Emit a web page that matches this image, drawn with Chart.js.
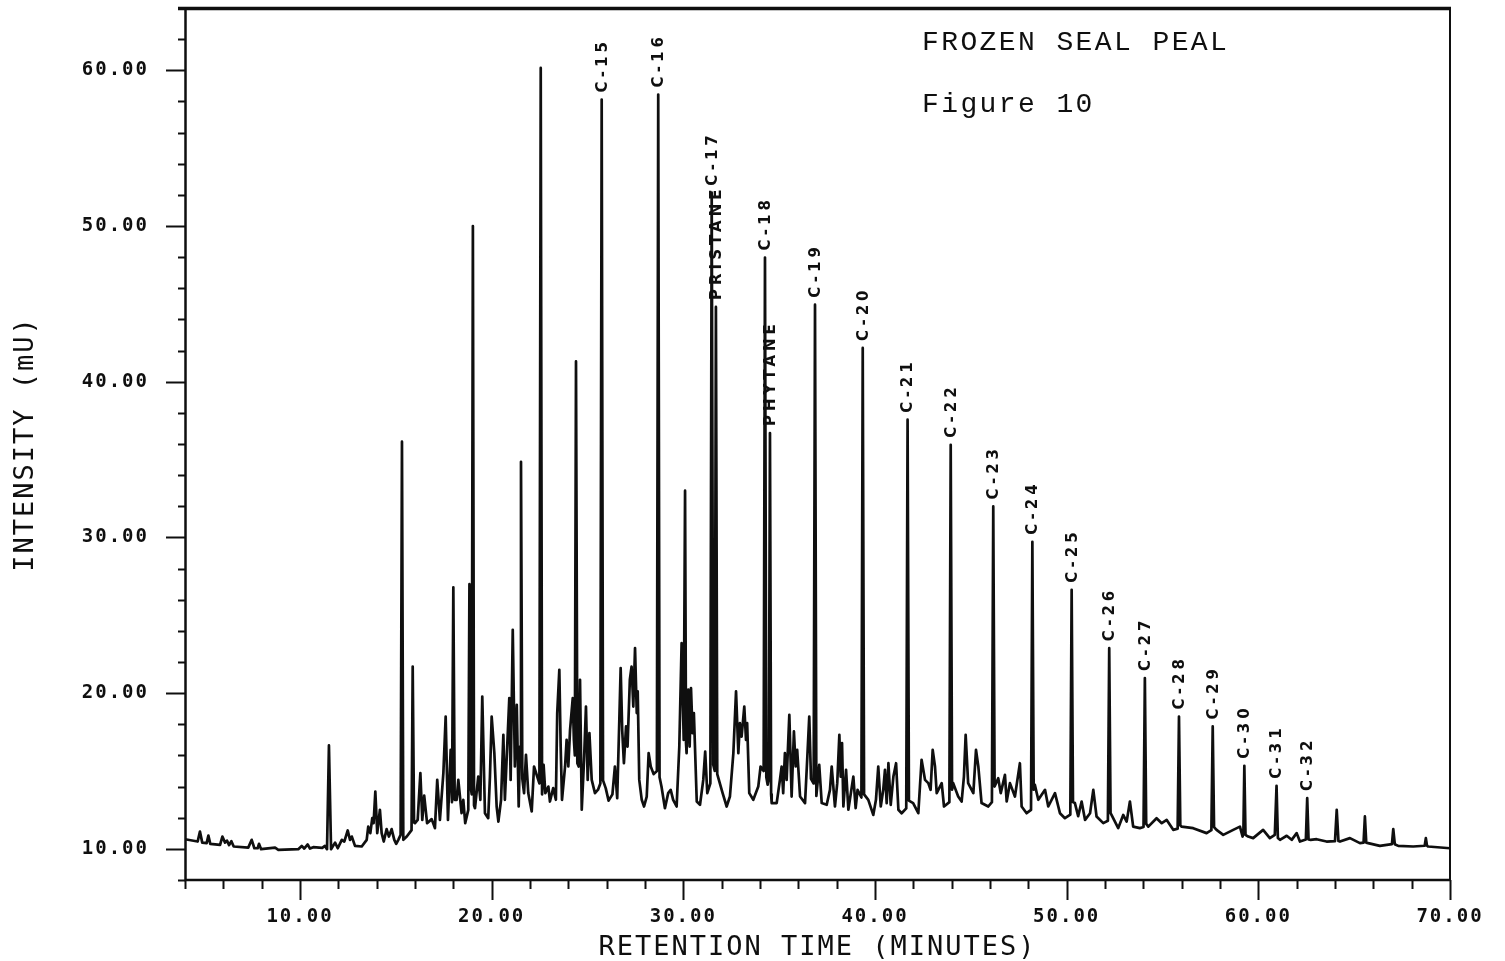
<!DOCTYPE html>
<html>
<head>
<meta charset="utf-8">
<title>FROZEN SEAL PEAL - Figure 10</title>
<script src="https://cdn.jsdelivr.net/npm/chart.js"></script>
<style>
  html, body { margin: 0; padding: 0; background: #ffffff; }
  canvas { display: block; }
</style>
</head>
<body>
<canvas id="chromatogram" width="1505" height="961"></canvas>
<script>
// Detector trace: [retention time (min), intensity (mU)].
// The apexes of the named peaks are kept in the peak arrays below and merged in.
const traceBase = [
  [4.00,10.62],[4.66,10.47],[4.78,11.11],[4.90,10.40],[5.13,10.37],[5.22,10.85],[5.32,10.32],
  [5.83,10.26],[5.95,10.79],[6.09,10.40],[6.19,10.53],[6.30,10.24],[6.42,10.49],[6.54,10.15],
  [7.30,10.08],[7.48,10.58],[7.62,10.04],[7.79,10.04],[7.86,10.32],[7.97,9.98],[8.70,10.08],
  [8.87,9.94],[9.91,9.98],[10.09,10.19],[10.22,10.02],[10.40,10.28],[10.52,10.02],[10.69,10.11],
  [11.16,10.06],[11.30,10.19],[11.41,9.98],[11.51,16.64],[11.62,9.98],[11.83,10.40],[11.97,10.04],
  [12.18,10.58],[12.31,10.47],[12.49,11.18],[12.61,10.58],[12.70,10.79],[12.87,10.19],[13.22,10.15],
  [13.48,10.58],[13.56,11.43],[13.67,11.01],[13.77,11.97],[13.84,11.65],[13.93,13.68],[14.03,11.01],
  [14.17,12.51],[14.26,11.01],[14.37,10.47],[14.52,11.27],[14.64,10.79],[14.78,11.27],[14.92,10.58],
  [15.02,10.32],[15.13,10.58],[15.25,10.90],[15.32,36.15],[15.39,10.58],[15.57,10.79],[15.82,11.20],
  [15.88,21.71],[15.95,11.70],[16.00,11.65],[16.14,11.86],[16.28,14.86],[16.38,11.86],[16.48,13.42],
  [16.63,11.65],[16.87,11.91],[17.04,11.33],[17.16,14.43],[17.30,11.86],[17.48,14.86],[17.60,18.50],
  [17.72,11.86],[17.86,16.36],[17.93,13.00],[18.00,26.80],[18.07,13.15],[18.17,13.15],[18.26,14.43],
  [18.43,12.29],[18.52,13.15],[18.62,11.65],[18.78,12.50],[18.84,27.00],[18.90,14.00],[18.96,13.50],
  [19.02,50.00],[19.08,12.80],[19.13,12.61],[19.30,14.64],[19.41,13.15],[19.51,19.78],[19.65,12.29],
  [19.82,11.97],[19.91,14.64],[20.00,18.50],[20.14,16.15],[20.26,12.72],[20.35,11.75],[20.49,13.15],
  [20.61,17.32],[20.69,13.15],[20.78,15.72],[20.92,19.68],[20.99,14.43],[21.10,24.07],[21.21,15.29],
  [21.31,19.25],[21.41,12.72],[21.48,16.57],[21.53,34.86],[21.60,14.50],[21.69,13.58],[21.79,16.04],
  [21.91,13.58],[22.09,12.40],[22.21,15.29],[22.49,14.20],[22.56,60.15],[22.63,13.50],[22.71,15.40],
  [22.80,13.58],[22.96,14.00],[23.04,13.04],[23.21,13.90],[23.35,13.15],[23.42,18.72],[23.53,21.50],
  [23.60,16.57],[23.67,13.15],[23.83,15.29],[23.91,17.00],[24.00,15.29],[24.09,17.64],[24.23,19.68],
  [24.29,17.00],[24.34,16.00],[24.40,41.30],[24.47,15.50],[24.54,15.29],[24.61,20.86],[24.70,12.51],
  [24.82,15.72],[24.92,19.14],[25.01,14.43],[25.10,17.43],[25.22,14.43],[25.39,13.58],[25.55,13.80],
  [25.67,14.20],[25.81,14.40],[25.95,13.90],[26.10,13.10],[26.30,13.50],[26.43,15.29],[26.55,13.26],
  [26.66,18.29],[26.73,21.61],[26.81,17.64],[26.90,15.50],[27.01,17.86],[27.09,16.57],[27.21,20.86],
  [27.30,21.71],[27.39,19.14],[27.48,22.89],[27.57,18.72],[27.62,20.11],[27.70,14.43],[27.83,13.15],
  [27.95,12.72],[28.09,13.36],[28.19,16.15],[28.30,15.29],[28.45,14.80],[28.62,15.00],[28.76,14.60],
  [28.86,14.00],[29.04,12.61],[29.21,13.58],[29.34,13.79],[29.47,13.15],[29.65,12.72],[29.79,16.57],
  [29.91,23.21],[30.02,17.00],[30.09,33.00],[30.14,16.80],[30.17,16.15],[30.26,20.22],[30.33,16.57],
  [30.40,20.33],[30.48,17.43],[30.55,18.72],[30.70,13.04],[30.87,12.83],[31.04,14.43],[31.14,16.25],
  [31.25,13.58],[31.41,14.20],[31.56,15.40],[31.64,15.00],[31.77,14.80],[31.88,14.32],[32.05,13.58],
  [32.26,12.72],[32.43,13.36],[32.61,16.15],[32.75,20.11],[32.87,16.15],[32.95,18.07],[33.04,17.21],
  [33.18,19.14],[33.27,17.00],[33.33,18.07],[33.44,13.58],[33.65,13.15],[33.91,14.00],[34.03,15.29],
  [34.19,15.00],[34.33,14.60],[34.40,14.12],[34.46,14.50],[34.58,13.50],[34.61,12.94],[34.87,12.94],
  [35.04,14.43],[35.13,15.29],[35.21,13.58],[35.30,16.15],[35.39,14.43],[35.53,18.61],[35.65,13.36],
  [35.77,17.54],[35.86,15.29],[35.94,16.36],[36.09,13.36],[36.35,12.94],[36.47,15.93],[36.57,18.50],
  [36.66,14.50],[36.80,14.20],[36.94,13.40],[37.09,15.40],[37.22,12.94],[37.48,12.83],[37.65,13.79],
  [37.74,15.29],[37.91,12.72],[38.03,14.22],[38.14,17.32],[38.21,14.64],[38.28,16.79],[38.35,12.72],
  [38.49,15.07],[38.61,12.51],[38.87,14.64],[38.99,12.61],[39.09,13.79],[39.29,13.30],[39.43,13.50],
  [39.65,13.15],[39.91,12.18],[40.05,13.15],[40.17,15.29],[40.30,12.72],[40.43,13.79],[40.52,15.07],
  [40.61,12.94],[40.70,15.50],[40.82,12.83],[40.96,14.64],[41.10,15.50],[41.22,12.51],[41.39,12.29],
  [41.63,12.60],[41.77,13.10],[41.99,12.94],[42.26,12.29],[42.43,15.72],[42.61,14.43],[42.78,14.22],
  [42.90,13.79],[43.01,16.36],[43.13,15.29],[43.22,13.58],[43.48,14.22],[43.60,12.72],[43.88,13.00],
  [44.02,13.80],[44.08,14.22],[44.34,13.36],[44.52,13.04],[44.64,14.64],[44.73,17.32],[44.86,14.22],
  [45.13,13.58],[45.27,16.36],[45.39,15.29],[45.56,12.94],[45.91,12.72],[46.10,13.00],[46.24,14.00],
  [46.43,14.54],[46.56,13.58],[46.78,14.75],[46.87,13.04],[47.04,14.22],[47.30,13.36],[47.56,15.50],
  [47.65,12.72],[47.91,12.29],[48.14,12.50],[48.28,13.80],[48.34,14.11],[48.52,13.15],[48.87,13.79],
  [49.04,12.72],[49.39,13.58],[49.65,12.29],[49.91,11.97],[50.19,12.20],[50.33,13.00],[50.43,12.94],
  [50.60,12.10],[50.78,13.04],[50.96,11.86],[51.22,12.29],[51.39,13.79],[51.56,12.08],[51.91,11.65],
  [52.15,11.80],[52.29,12.30],[52.34,12.18],[52.69,11.33],[52.95,12.18],[53.13,11.75],[53.30,13.04],
  [53.47,11.43],[53.82,11.33],[54.01,11.40],[54.15,11.60],[54.26,11.43],[54.69,11.97],[54.96,11.65],
  [55.22,11.86],[55.56,11.22],[55.79,11.30],[55.93,11.50],[56.00,11.43],[56.60,11.33],[57.30,11.01],
  [57.55,11.20],[57.69,11.40],[57.82,11.22],[58.17,10.90],[58.69,11.22],[59.04,11.43],[59.18,10.79],
  [59.22,11.00],[59.33,10.90],[59.47,10.79],[59.73,10.69],[60.25,11.22],[60.60,10.69],[60.86,10.90],
  [61.02,10.70],[61.13,10.58],[61.48,10.84],[61.74,10.58],[62.00,11.01],[62.17,10.47],[62.48,10.60],
  [62.62,10.60],[62.73,10.58],[63.04,10.62],[63.56,10.47],[64.00,10.50],[64.09,12.51],[64.18,10.50],
  [64.26,10.47],[64.78,10.69],[65.30,10.37],[65.49,10.40],[65.56,12.08],[65.63,10.40],[65.73,10.37],
  [66.34,10.19],[66.97,10.30],[67.04,11.27],[67.12,10.30],[67.30,10.19],[68.08,10.15],[68.68,10.20],
  [68.74,10.69],[68.80,10.20],[68.86,10.15],[70.00,10.04]
];

// Named peaks: label, retention time (min), apex intensity (mU)
const peakNames   = ['C-15','C-16','C-17','PRISTANE','C-18','PHYTANE','C-19','C-20','C-21','C-22',
                     'C-23','C-24','C-25','C-26','C-27','C-28','C-29','C-30','C-31','C-32'];
const peakTimes   = [25.74, 28.69, 31.48, 31.70, 34.26, 34.52, 36.87, 39.36, 41.70, 43.95,
                     46.17, 48.21, 50.26, 52.22, 54.08, 55.86, 57.62, 59.27, 60.95, 62.55];
const peakHeights = [58.12, 58.44, 52.14, 44.80, 47.97, 36.70, 44.95, 42.17, 37.56, 35.95,
                     31.99, 29.72, 26.64, 22.89, 20.97, 18.50, 17.86, 15.33, 14.05, 13.26];

// Axis ranges and tick spacing
const timeRange      = [4, 70];
const intensityRange = [8, 64];
const minorStep      = 2;
const labelStep      = 10;

// Header text
const headerLines = ['FROZEN SEAL PEAL', 'Figure 10'];

const INK = '#0f0f0f';

const tracePoints = traceBase
  .map(([t, v]) => ({ x: t, y: v }))
  .concat(peakTimes.map((t, i) => ({ x: t, y: peakHeights[i] })))
  .sort((a, b) => a.x - b.x);

const tickLabel = v => (v % labelStep === 0 ? v.toFixed(2) : '');

// Plotter-style lettering is widely spaced
const spacingPlugin = {
  id: 'plotterSpacing',
  beforeDraw(chart) { chart.ctx.letterSpacing = '2px'; }
};

// Frame and tick marks (long ticks every 10 units, short ones every 2)
const framePlugin = {
  id: 'frame',
  afterDraw(chart) {
    const { ctx, chartArea: a, scales: { x, y } } = chart;
    ctx.save();
    ctx.strokeStyle = INK;
    ctx.lineCap = 'butt';

    ctx.lineWidth = 2;
    x.ticks.forEach(t => {
      const px = Math.round(x.getPixelForValue(t.value)) + 0.5;
      const len = t.value % labelStep === 0 ? 20 : 9;
      ctx.beginPath(); ctx.moveTo(px, a.bottom); ctx.lineTo(px, a.bottom + len); ctx.stroke();
    });
    y.ticks.forEach(t => {
      const py = Math.round(y.getPixelForValue(t.value)) + 0.5;
      const len = t.value % labelStep === 0 ? 19 : 7;
      ctx.beginPath(); ctx.moveTo(a.left - len, py); ctx.lineTo(a.left, py); ctx.stroke();
    });

    ctx.lineWidth = 2.5;
    ctx.beginPath();
    ctx.moveTo(a.left + 0.5, a.top); ctx.lineTo(a.left + 0.5, a.bottom);
    ctx.lineTo(a.right, a.bottom);
    ctx.stroke();

    ctx.lineWidth = 2;
    ctx.beginPath(); ctx.moveTo(a.right, a.top); ctx.lineTo(a.right, a.bottom); ctx.stroke();

    ctx.lineWidth = 3.5;
    ctx.beginPath(); ctx.moveTo(a.left - 7, a.top + 0.5); ctx.lineTo(a.right + 1, a.top + 0.5); ctx.stroke();
    ctx.restore();
  }
};

// Vertical peak names written just above each apex
const peakLabelPlugin = {
  id: 'peakLabels',
  afterDatasetsDraw(chart) {
    const { ctx, scales: { x, y } } = chart;
    ctx.save();
    ctx.fillStyle = INK;
    ctx.font = 'bold 15px "DejaVu Sans", sans-serif';
    ctx.letterSpacing = '4px';
    ctx.textAlign = 'left';
    ctx.textBaseline = 'middle';
    peakNames.forEach((name, i) => {
      const px = x.getPixelForValue(peakTimes[i]);
      const py = y.getPixelForValue(peakHeights[i]);
      ctx.save();
      ctx.translate(px + 1, py - 7);
      ctx.rotate(-Math.PI / 2);
      ctx.fillText(name, 0, 0);
      ctx.restore();
    });
    ctx.restore();
  }
};

// Sample name and figure number, upper right of the plot
const headerPlugin = {
  id: 'header',
  afterDraw(chart) {
    const { ctx, chartArea: a } = chart;
    ctx.save();
    ctx.fillStyle = INK;
    ctx.font = '28px "Liberation Mono", "Courier New", monospace';
    ctx.letterSpacing = '2.4px';
    ctx.textAlign = 'left';
    ctx.textBaseline = 'alphabetic';
    ctx.fillText(headerLines[0], a.left + 737, a.top + 42);
    ctx.fillText(headerLines[1], a.left + 737, a.top + 104);
    ctx.restore();
  }
};

const tickFont  = { family: '"DejaVu Sans Mono", monospace', size: 19, weight: 'bold' };
const titleFont = { family: '"DejaVu Sans Mono", monospace', size: 27, weight: 'normal', lineHeight: 1 };

new Chart(document.getElementById('chromatogram'), {
  type: 'line',
  data: {
    datasets: [{
      data: tracePoints,
      borderColor: INK,
      borderWidth: 2.7,
      borderJoinStyle: 'round',
      pointRadius: 0,
      tension: 0,
      fill: false
    }]
  },
  options: {
    responsive: false,
    animation: false,
    parsing: false,
    events: [],
    layout: { padding: { top: 8, right: 55, bottom: 0, left: 0 } },
    plugins: { legend: { display: false }, tooltip: { enabled: false } },
    scales: {
      x: {
        type: 'linear',
        min: timeRange[0],
        max: timeRange[1],
        afterFit: s => { s.height = 81; },
        grid: { display: false, drawTicks: false },
        border: { display: false },
        ticks: {
          stepSize: minorStep, autoSkip: false, maxRotation: 0, minRotation: 0,
          padding: 26, color: INK, font: tickFont, callback: tickLabel
        },
        title: {
          display: true, text: 'RETENTION TIME (MINUTES)', color: INK,
          font: titleFont, padding: { top: 0, bottom: 0 }
        }
      },
      y: {
        type: 'linear',
        min: intensityRange[0],
        max: intensityRange[1],
        afterFit: s => { s.width = 185; s.paddingTop = 0; s.paddingBottom = 0; },
        grid: { display: false, drawTicks: false },
        border: { display: false },
        ticks: {
          stepSize: minorStep, autoSkip: false,
          padding: 36, color: INK, font: tickFont, callback: tickLabel
        },
        title: {
          display: true, text: 'INTENSITY (mU)', color: INK,
          font: titleFont, padding: { top: 12, bottom: 0 }
        }
      }
    }
  },
  plugins: [spacingPlugin, framePlugin, peakLabelPlugin, headerPlugin]
});
</script>
</body>
</html>
